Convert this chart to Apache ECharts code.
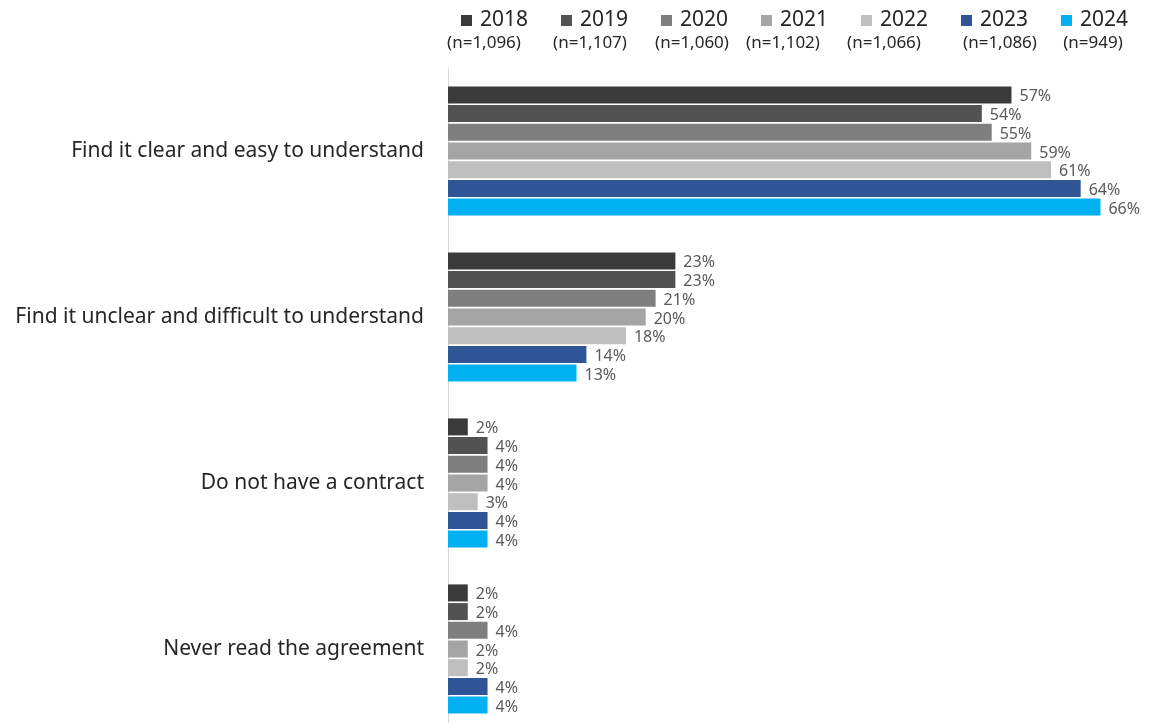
<!DOCTYPE html>
<html>
<head>
<meta charset="utf-8">
<script src="https://cdn.jsdelivr.net/npm/echarts@6/dist/echarts.min.js"></script>
<style>
  html, body { margin: 0; padding: 0; background: #fff; overflow: hidden; }
  #chart { width: 1149px; height: 732px; }
</style>
</head>
<body>
<div id="chart"></div>
<script>
// Survey answers, top to bottom
const categories = [
  'Find it clear and easy to understand',
  'Find it unclear and difficult to understand',
  'Do not have a contract',
  'Never read the agreement'
];

// Survey waves and their sample sizes
const years = ['2018', '2019', '2020', '2021', '2022', '2023', '2024'];
const sampleSizes = ['(n=1,096)', '(n=1,107)', '(n=1,060)', '(n=1,102)', '(n=1,066)', '(n=1,086)', '(n=949)'];

// Share of respondents (%) per wave, in category order
const v2018 = [57, 23, 2, 2];
const v2019 = [54, 23, 4, 2];
const v2020 = [55, 21, 4, 4];
const v2021 = [59, 20, 4, 2];
const v2022 = [61, 18, 3, 2];
const v2023 = [64, 14, 4, 4];
const v2024 = [66, 13, 4, 4];
const seriesValues = [v2018, v2019, v2020, v2021, v2022, v2023, v2024];

const palette = ['#3a3a3a', '#525252', '#7f7f7f', '#a5a5a5', '#bfbfbf', '#2f5597', '#00b0f0'];

// Layout: legend entries and the sample-size captions underneath
const legendLeft = 461;
const legendPitch = 100;
const captionCenters = [484, 590, 692, 783, 884, 1000, 1093];

const FONT = "'Noto Sans', 'Open Sans', Arial, sans-serif";

const chart = echarts.init(document.getElementById('chart'), null, { renderer: 'canvas' });

const legends = years.map((y, i) => ({
  data: [y],
  left: legendLeft + i * legendPitch,
  top: 10,
  padding: 0,
  itemWidth: 11,
  itemHeight: 11,
  itemGap: 0,
  icon: 'rect',
  selectedMode: false,
  textStyle: { fontFamily: FONT, fontSize: 21, color: '#262626', padding: [0, 0, 0, 3] }
}));

const captions = sampleSizes.map((t, i) => ({
  type: 'text',
  x: captionCenters[i],
  y: 35,
  style: {
    text: t,
    fontFamily: FONT,
    fontSize: 17,
    fill: '#262626',
    textAlign: 'center'
  }
}));

chart.setOption({
  animation: false,
  backgroundColor: '#ffffff',
  legend: legends,
  graphic: captions,
  grid: { left: 448, top: 68, right: 9, bottom: 0, containLabel: false },
  xAxis: {
    type: 'value',
    min: 0,
    max: 70,
    show: false
  },
  yAxis: {
    type: 'category',
    data: categories,
    inverse: true,
    axisLine: { show: true, lineStyle: { color: '#d9d9d9', width: 1 } },
    axisTick: { show: false },
    axisLabel: {
      fontFamily: FONT,
      fontSize: 21,
      color: '#262626',
      margin: 24
    },
    splitLine: { show: false }
  },
  series: years.map((y, i) => ({
    name: y,
    type: 'bar',
    data: seriesValues[i],
    barWidth: 17,
    barGap: '10%',
    itemStyle: { color: palette[i] },
    label: {
      show: true,
      position: 'right',
      distance: 8,
      offset: [0, 2],
      formatter: p => p.value + '%',
      fontFamily: FONT,
      fontSize: 16,
      color: '#595959'
    }
  }))
});
</script>
</body>
</html>
